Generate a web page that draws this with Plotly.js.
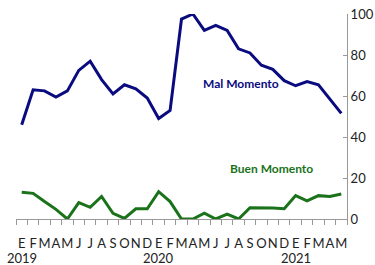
<!DOCTYPE html>
<html>
<head>
<meta charset="utf-8">
<script src="https://cdn.plot.ly/plotly-3.0.1.min.js"></script>
<style>
html,body{margin:0;padding:0;background:#fff;}
#chart{width:375px;height:265px;}
</style>
</head>
<body>
<div id="chart"></div>
<script>
const monthLabels = ["E","F","M","A","M","J","J","A","S","O","N","D",
                     "E","F","M","A","M","J","J","A","S","O","N","D",
                     "E","F","M","A","M"];
const yearLabels = ["2019","2020","2021"];
const yearIndex = [0,12,24];
const malMomento = [46,63,62.5,59.5,62.5,72.5,77,68,61,65.5,63.5,59,49,53,
                    97.5,100,92,94.5,92,83,81,75,73,67.5,65,67,65.5,58.5,51.5];
const buenMomento = [13,12.5,8.5,4.7,0,8,5.7,11,2.8,0.3,5,5,13.3,8.5,
                     0,0,2.8,0,2.4,0,5.5,5.5,5.4,5,11.4,8.8,11.4,11,12.2];

const idx = monthLabels.map((_, i) => i);
const fontFam = 'Lato, "Open Sans", Arial, sans-serif';
const navy = '#0b0b80';
const green = '#1a731a';

const data = [
  {x: idx, y: malMomento, type: 'scatter', mode: 'lines',
   line: {color: navy, width: 3}, hoverinfo: 'skip'},
  {x: idx, y: buenMomento, type: 'scatter', mode: 'lines',
   line: {color: green, width: 3}, hoverinfo: 'skip'}
];

const annotations = yearLabels.map((t, k) => ({
  text: t, x: yearIndex[k], xref: 'x', y: -0.19, yref: 'paper',
  yanchor: 'middle', xanchor: 'center', showarrow: false,
  font: {family: fontFam, size: 13, color: '#222'}
}));
annotations.push({text: '<b>Mal Momento</b>', x: 19.2, y: 66.3, xref: 'x', yref: 'y',
  showarrow: false, font: {family: fontFam, size: 12, color: navy}});
annotations.push({text: '<b>Buen Momento</b>', x: 21.9, y: 24.4, xref: 'x', yref: 'y',
  showarrow: false, font: {family: fontFam, size: 12, color: green}});

const layout = {
  width: 375, height: 265,
  margin: {l: 16, r: 28, t: 14, b: 46, pad: 0},
  paper_bgcolor: '#fff', plot_bgcolor: '#fff',
  showlegend: false,
  xaxis: {
    range: [-0.5, 28.5], tickvals: idx, ticktext: monthLabels, tickangle: 0,
    ticks: 'outside', ticklen: 12, tickcolor: 'rgba(0,0,0,0)',
    showgrid: false, zeroline: false, showline: true, linecolor: '#999', linewidth: 1,
    tickfont: {family: fontFam, size: 13, color: '#222'},
    minor: {tick0: -0.5, dtick: 1, ticks: 'outside', ticklen: 5, tickcolor: '#999', showgrid: false},
    fixedrange: true
  },
  yaxis: {
    range: [0, 100], side: 'right', dtick: 20,
    ticks: 'inside', ticklen: 4, tickcolor: '#999',
    showgrid: false, zeroline: false, showline: true, linecolor: '#999', linewidth: 1,
    tickfont: {family: fontFam, size: 13, color: '#222'},
    fixedrange: true
  },
  annotations: annotations
};

Plotly.newPlot('chart', data, layout, {displayModeBar: false, staticPlot: true});
</script>
</body>
</html>
